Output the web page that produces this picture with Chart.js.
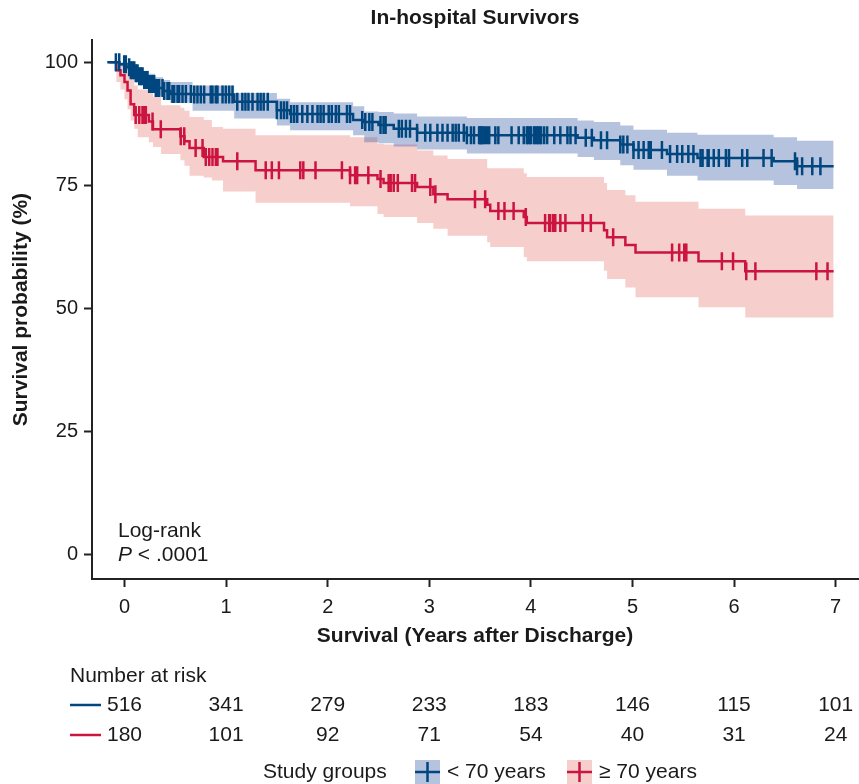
<!DOCTYPE html>
<html>
<head>
<meta charset="utf-8">
<script src="https://cdn.jsdelivr.net/npm/chart.js@4.4.1/dist/chart.umd.min.js"></script>
<style>
  body { margin: 0; background: #fff; }
  canvas { display: block; }
</style>
</head>
<body>
<canvas id="kmCanvas" width="859" height="784"></canvas>
<script>
// survival steps, < 70 years
const youngTimes = [-0.17, -0.05, 0.02, 0.06, 0.10, 0.14, 0.19, 0.24, 0.30, 0.38, 0.45, 0.67, 1.08, 1.50, 1.63, 2.25, 2.36, 2.50, 2.65, 2.88, 3.37, 4.46, 4.62, 4.88, 5.01, 5.34, 5.64, 6.39, 6.62, 6.98];
const youngSurv  = [100, 99.6, 99.0, 98.4, 97.8, 97.2, 96.4, 95.6, 94.8, 94.2, 93.6, 93.5, 92.0, 90.3, 89.5, 88.3, 87.9, 87.3, 86.5, 85.7, 85.2, 84.7, 84.2, 83.3, 82.2, 81.4, 80.6, 79.9, 78.9, 78.9];
const youngUpper = [100, 100, 100, 99.8, 99.4, 98.9, 98.3, 97.7, 97.0, 96.4, 96.0, 95.3, 93.8, 92.6, 91.9, 91.1, 90.0, 89.9, 89.6, 89.0, 88.7, 88.2, 87.9, 87.2, 86.3, 85.7, 85.3, 84.8, 84.1, 84.1];
const youngLower = [100, 99.2, 98.4, 97.4, 96.6, 95.8, 94.8, 94.0, 93.2, 92.4, 91.8, 90.2, 88.6, 87.2, 86.2, 85.2, 83.8, 83.6, 82.9, 82.3, 81.5, 80.8, 80.2, 79.1, 78.2, 77.0, 76.0, 75.1, 74.3, 74.3];

// survival steps, >= 70 years
const oldTimes = [-0.15, -0.08, -0.04, 0.00, 0.03, 0.06, 0.095, 0.13, 0.24, 0.28, 0.36, 0.55, 0.59, 0.64, 0.78, 0.86, 0.97, 1.29, 2.22, 2.49, 2.55, 2.88, 3.04, 3.18, 3.57, 3.60, 3.93, 3.96, 4.72, 4.75, 4.93, 5.03, 5.65, 6.11, 6.98];
const oldSurv  = [100, 98.4, 97.4, 96.0, 94.3, 91.5, 89.3, 89.3, 88.0, 86.4, 86.4, 85.0, 84.0, 82.6, 80.8, 80.8, 79.9, 78.1, 77.1, 76.3, 75.5, 74.7, 73.2, 72.2, 71.1, 69.8, 68.6, 67.4, 65.9, 64.5, 62.9, 61.4, 59.6, 57.6, 57.6];
const oldUpper = [100, 100, 99.5, 98.8, 98.0, 97.0, 95.3, 94.5, 94.0, 93.0, 91.3, 90.8, 90.2, 88.9, 88.3, 86.9, 86.5, 85.2, 84.8, 83.5, 83.3, 82.1, 81.1, 80.4, 78.5, 78.5, 77.5, 76.7, 75.5, 74.1, 73.0, 71.7, 70.3, 68.9, 68.9];
const oldLower = [100, 96.0, 94.5, 92.5, 90.5, 88.2, 86.5, 84.8, 83.8, 82.8, 81.4, 80.1, 79.0, 77.0, 76.6, 76.0, 73.8, 71.5, 70.8, 69.2, 68.6, 67.4, 66.2, 64.8, 63.5, 62.5, 60.5, 59.6, 57.7, 56.0, 54.3, 52.3, 50.3, 48.2, 48.2];

// censoring times (years)
const youngCensored = [-0.085, -0.052, -0.003, 0.013, 0.046, 0.062, 0.079, 0.096, 0.111, 0.128, 0.145, 0.161, 0.177, 0.194, 0.210, 0.226, 0.243, 0.259, 0.276, 0.292, 0.308, 0.325, 0.341, 0.374, 0.390, 0.423, 0.440, 0.472, 0.489, 0.522, 0.538, 0.571, 0.604, 0.653, 0.686, 0.718, 0.751, 0.784, 0.849, 0.866, 0.898, 0.915, 0.965, 0.997, 1.030, 1.063, 1.11, 1.16, 1.19, 1.22, 1.26, 1.31, 1.34, 1.37, 1.41, 1.50, 1.54, 1.57, 1.60, 1.64, 1.67, 1.70, 1.75, 1.80, 1.85, 1.90, 1.93, 1.96, 2.01, 2.04, 2.08, 2.11, 2.19, 2.22, 2.34, 2.37, 2.41, 2.44, 2.52, 2.55, 2.57, 2.70, 2.73, 2.77, 2.81, 2.88, 2.96, 3.01, 3.08, 3.13, 3.18, 3.23, 3.26, 3.29, 3.34, 3.37, 3.41, 3.44, 3.49, 3.50, 3.51, 3.52, 3.53, 3.55, 3.57, 3.59, 3.65, 3.68, 3.81, 3.88, 3.93, 3.96, 3.97, 3.99, 4.00, 4.03, 4.04, 4.06, 4.07, 4.09, 4.10, 4.13, 4.16, 4.23, 4.29, 4.36, 4.39, 4.44, 4.54, 4.60, 4.69, 4.75, 4.88, 4.91, 4.95, 5.01, 5.06, 5.11, 5.16, 5.18, 5.29, 5.37, 5.44, 5.49, 5.55, 5.60, 5.67, 5.69, 5.74, 5.75, 5.80, 5.85, 5.92, 5.95, 6.08, 6.13, 6.29, 6.37, 6.60, 6.62, 6.67, 6.77, 6.85];
const oldCensored = [0.11, 0.145, 0.177, 0.194, 0.21, 0.276, 0.357, 0.554, 0.588, 0.70, 0.768, 0.80, 0.834, 0.866, 0.899, 0.915, 1.11, 1.39, 1.45, 1.52, 1.73, 1.76, 1.88, 2.14, 2.22, 2.27, 2.29, 2.40, 2.52, 2.60, 2.62, 2.65, 2.69, 2.83, 2.86, 3.01, 3.06, 3.45, 3.55, 3.68, 3.74, 3.83, 3.95, 4.14, 4.18, 4.19, 4.22, 4.24, 4.29, 4.34, 4.51, 4.59, 4.81, 5.39, 5.46, 5.51, 5.53, 5.88, 5.99, 6.12, 6.21, 6.81, 6.92];

// number at risk
const riskYears = [0, 1, 2, 3, 4, 5, 6, 7];
const riskYoung = [516, 341, 279, 233, 183, 146, 115, 101];
const riskOld = [180, 101, 92, 71, 54, 40, 31, 24];

const xTicks = [0, 1, 2, 3, 4, 5, 6, 7];
const yTicks = [0, 25, 50, 75, 100];

const BLUE = '#00467f';
const RED = '#cc1440';
const BLUE_BAND = 'rgba(40, 80, 160, 0.34)';
const RED_BAND = 'rgba(230, 120, 110, 0.36)';
const FONT = '"Liberation Sans", Arial, sans-serif';
const TEXT = '#1a1a1a';

function steps(times, vals) {
    return times.map((t, i) => ({ x: t, y: vals[i] }));
}

// value of the step curve at time t (for placing censor marks)
function survAt(times, vals, t) {
    let v = vals[0];
    for (let i = 0; i < times.length; i++) {
        if (times[i] <= t) v = vals[i];
    }
    return v;
}

function censorMarks(cens, times, vals) {
    return cens.map(t => ({ x: t, y: survAt(times, vals, t) }));
}

function band(data, color, fill, order) {
    return {
        data: data, stepped: 'before', fill: fill, backgroundColor: color,
        borderWidth: 0, pointRadius: 0, order: order
    };
}

function curve(data, color) {
    return {
        data: data, stepped: 'before', fill: false, borderColor: color,
        borderWidth: 2.5, pointRadius: 0, order: 1
    };
}

function censor(data, color) {
    return {
        data: data, showLine: false, pointStyle: 'line', rotation: 90,
        pointRadius: 9, pointBorderWidth: 2.5, pointBorderColor: color,
        borderColor: color, order: 0
    };
}

const riskTable = {
    id: 'riskTable',
    afterDraw(chart) {
        const ctx = chart.ctx;
        const xs = chart.scales.x;
        const area = chart.chartArea;
        ctx.save();
        ctx.fillStyle = TEXT;
        ctx.textBaseline = 'middle';
        ctx.textAlign = 'left';

        // log-rank note
        ctx.font = '21px ' + FONT;
        ctx.fillText('Log-rank', area.left + 26, area.bottom - 48);
        ctx.font = 'italic 21px ' + FONT;
        ctx.fillText('P', area.left + 26, area.bottom - 24);
        const pw = ctx.measureText('P').width;
        ctx.font = '21px ' + FONT;
        ctx.fillText(' < .0001', area.left + 26 + pw, area.bottom - 24);

        // number at risk
        ctx.fillText('Number at risk', 70, 676);
        [[riskYoung, BLUE, 705], [riskOld, RED, 735]].forEach(([row, col, y]) => {
            ctx.strokeStyle = col;
            ctx.lineWidth = 2.5;
            ctx.beginPath();
            ctx.moveTo(70, y);
            ctx.lineTo(101, y);
            ctx.stroke();
            ctx.textAlign = 'center';
            row.forEach((n, i) => ctx.fillText(String(n), xs.getPixelForValue(riskYears[i]), y));
            ctx.textAlign = 'left';
        });

        // legend
        ctx.fillText('Study groups', 263, 772);
        [[415, BLUE_BAND, BLUE, '< 70 years'], [567, RED_BAND, RED, '\u2265 70 years']].forEach(([bx, fillCol, col, label]) => {
            ctx.fillStyle = fillCol;
            ctx.fillRect(bx, 760, 25, 24);
            ctx.strokeStyle = col;
            ctx.lineWidth = 2.5;
            ctx.beginPath();
            ctx.moveTo(bx, 772);
            ctx.lineTo(bx + 25, 772);
            ctx.moveTo(bx + 12.5, 762);
            ctx.lineTo(bx + 12.5, 782);
            ctx.stroke();
            ctx.fillStyle = TEXT;
            ctx.fillText(label, bx + 32, 772);
        });
        ctx.restore();
    }
};

Chart.defaults.font.family = FONT;
Chart.defaults.font.size = 20;
Chart.defaults.color = TEXT;

const ctx = document.getElementById('kmCanvas').getContext('2d');

new Chart(ctx, {
    type: 'line',
    data: {
        datasets: [
            band(steps(youngTimes, youngUpper), BLUE_BAND, '+1', 3),
            band(steps(youngTimes, youngLower), BLUE_BAND, false, 3),
            band(steps(oldTimes, oldUpper), RED_BAND, '+1', 4),
            band(steps(oldTimes, oldLower), RED_BAND, false, 4),
            curve(steps(youngTimes, youngSurv), BLUE),
            curve(steps(oldTimes, oldSurv), RED),
            censor(censorMarks(youngCensored, youngTimes, youngSurv), BLUE),
            censor(censorMarks(oldCensored, oldTimes, oldSurv), RED)
        ]
    },
    options: {
        responsive: false,
        animation: false,
        devicePixelRatio: 1,
        layout: { autoPadding: false, padding: { left: 0, right: 1, top: 0, bottom: 125 } },
        plugins: {
            legend: { display: false },
            tooltip: { enabled: false },
            title: {
                display: true,
                fullSize: false,
                text: 'In-hospital Survivors',
                font: { size: 21, weight: 'bold' },
                color: TEXT,
                padding: { top: 6, bottom: 9 }
            }
        },
        scales: {
            x: {
                type: 'linear',
                min: -0.32,
                max: 7.22,
                afterBuildTicks: s => { s.ticks = xTicks.map(v => ({ value: v })); },
                afterFit: s => { s.height = 80; },
                grid: { drawOnChartArea: false, drawTicks: true, tickLength: 8, tickWidth: 2, tickColor: '#222' },
                border: { display: true, color: '#222', width: 2 },
                ticks: { padding: 8, color: TEXT, font: { size: 20 } },
                title: {
                    display: true,
                    text: 'Survival (Years after Discharge)',
                    font: { size: 21, weight: 'bold' },
                    color: TEXT,
                    padding: { top: 0, bottom: 10 }
                }
            },
            y: {
                type: 'linear',
                min: -4.9,
                max: 104.5,
                afterBuildTicks: s => { s.ticks = yTicks.map(v => ({ value: v })); },
                afterFit: s => { s.width = 92; },
                grid: { drawOnChartArea: false, drawTicks: true, tickLength: 8, tickWidth: 2, tickColor: '#222' },
                border: { display: true, color: '#222', width: 2 },
                ticks: { padding: 6, color: TEXT, font: { size: 20 } },
                title: {
                    display: true,
                    text: 'Survival probability (%)',
                    font: { size: 21, weight: 'bold' },
                    color: TEXT,
                    padding: { top: 9, bottom: 0 }
                }
            }
        }
    },
    plugins: [riskTable]
});
</script>
</body>
</html>
